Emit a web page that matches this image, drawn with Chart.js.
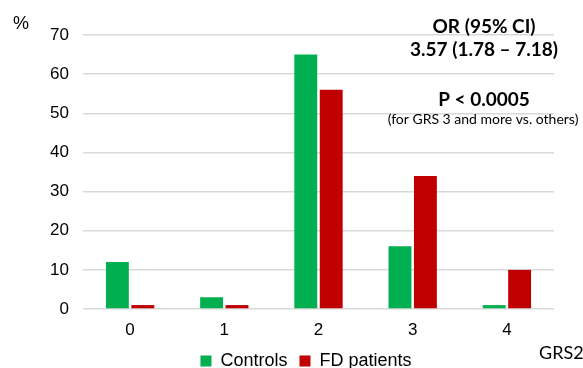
<!DOCTYPE html>
<html>
<head>
<meta charset="utf-8">
<script src="https://cdn.jsdelivr.net/npm/chart.js@4/dist/chart.umd.min.js"></script>
<style>
  html, body { margin: 0; padding: 0; background: #fff; }
  #wrap { width: 583px; height: 368px; }
</style>
</head>
<body>
<div id="wrap"><canvas id="grsChart" width="583" height="368"></canvas></div>
<script>
  'use strict'

  // data
  const categories = ['0', '1', '2', '3', '4']
  const controls = [12, 3, 65, 16, 1]
  const fdPatients = [1, 1, 56, 34, 10]
  const yTicks = [0, 10, 20, 30, 40, 50, 60, 70]

  const GREEN = '#00b050'
  const RED = '#c00000'
  const SANS = 'Liberation Sans, Arial, sans-serif'
  const TICK_FONT = { family: SANS, size: 17 }
  const NOTE_FONT = 'Lato, "Open Sans", sans-serif'

  // extra text drawn on top: axis units and the OR / P annotation
  const notes = {
    id: 'notes',
    afterLayout (chart) {
      // centre the legend under the whole picture, not under the plot
      const lg = chart.legend
      lg.left += 29
      lg.right += 29
    },
    afterDraw (chart) {
      const c = chart.ctx
      c.save()
      c.fillStyle = '#000'
      c.textBaseline = 'middle'
      c.textAlign = 'left'
      c.font = '18px ' + SANS
      c.fillText('%', 13, 24)
      c.font = '18px ' + NOTE_FONT
      c.fillText('GRS2', 539, 353)

      c.textAlign = 'center'
      c.font = 'bold 19px ' + NOTE_FONT
      c.fillText('OR (95% CI)', 484, 27)
      c.fillText('3.57 (1.78 \u2013 7.18)', 484, 50)
      c.fillText('P < 0.0005', 484, 100)
      c.font = '14px ' + NOTE_FONT
      c.fillText('(for GRS 3 and more vs. others)', 483, 119)
      c.restore()
    }
  }

  const ctx = document.getElementById('grsChart')
  // eslint-disable-next-line no-unused-vars
  const myChart = new Chart(ctx, {
    type: 'bar',
    data: {
      labels: categories,
      datasets: [{
        label: 'Controls',
        data: controls,
        backgroundColor: GREEN,
        barPercentage: 0.9,
        categoryPercentage: 0.54
      }, {
        label: 'FD patients',
        data: fdPatients,
        backgroundColor: RED,
        barPercentage: 0.9,
        categoryPercentage: 0.54
      }]
    },
    options: {
      responsive: false,
      animation: false,
      layout: { padding: { top: 35, right: 29, left: 0, bottom: -12 } },
      scales: {
        x: {
          grid: { display: false },
          border: { display: false },
          afterFit (scale) { scale.height = 31 },
          ticks: { color: '#000', font: TICK_FONT, padding: 3 }
        },
        y: {
          min: 0,
          max: 70,
          afterBuildTicks (scale) {
            scale.ticks = yTicks.map(v => ({ value: v }))
          },
          afterFit (scale) { scale.width = 83 },
          grid: { color: '#d9d9d9', lineWidth: 1.5, drawTicks: false },
          border: { display: false },
          ticks: { color: '#000', font: TICK_FONT, padding: 14 }
        }
      },
      plugins: {
        legend: {
          position: 'bottom',
          labels: {
            boxWidth: 11,
            boxHeight: 11,
            color: '#000',
            font: { family: SANS, size: 18 },
            padding: 12
          }
        },
        tooltip: { enabled: false }
      }
    },
    plugins: [notes]
  })
</script>
</body>
</html>
